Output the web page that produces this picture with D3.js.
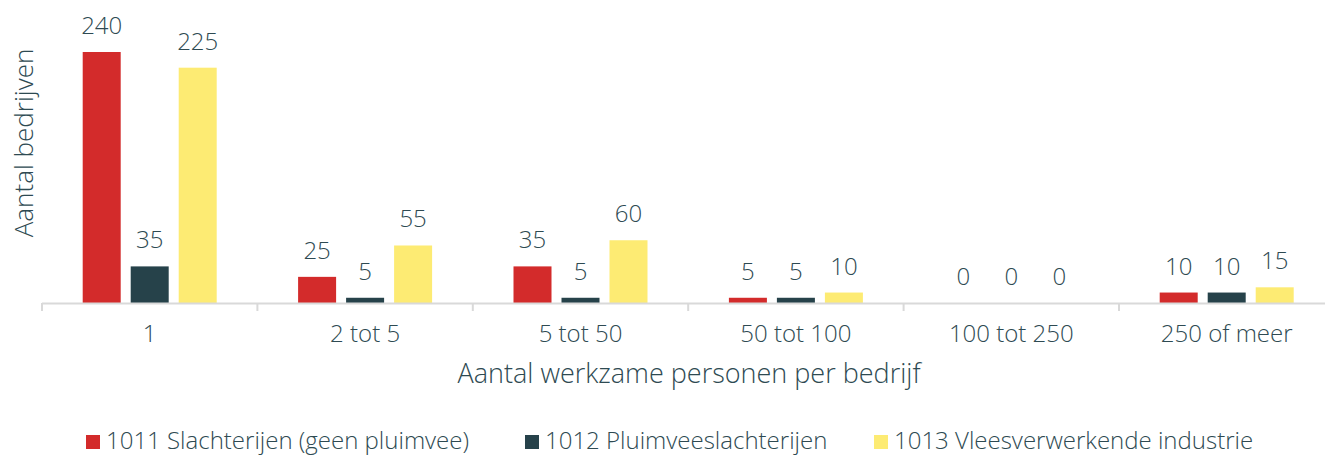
<!DOCTYPE html>
<html>
<head>
<meta charset="utf-8">
<script src="https://cdn.jsdelivr.net/npm/d3@7"></script>
<style>
  html, body { margin: 0; padding: 0; background: #fff; }
  svg { display: block; }
  text { font-family: "Open Sans", Lato, sans-serif; font-weight: 300; fill: #2E4A52; }
</style>
</head>
<body>
<svg id="chart" width="1325" height="455"></svg>
<script>
const categories = ["1", "2 tot 5", "5 tot 50", "50 tot 100", "100 tot 250", "250 of meer"];
const seriesNames = ["1011 Slachterijen (geen pluimvee)", "1012 Pluimveeslachterijen", "1013 Vleesverwerkende industrie"];
const slachterijen = [240, 25, 35, 5, 0, 10];
const pluimvee = [35, 5, 5, 5, 0, 10];
const vleesverwerkend = [225, 55, 60, 10, 0, 15];
const seriesColors = ["#D32B2B", "#26424A", "#FDEB73"];
const xTitle = "Aantal werkzame personen per bedrijf";
const yTitle = "Aantal bedrijven";

const seriesValues = [slachterijen, pluimvee, vleesverwerkend];
const svg = d3.select("#chart");

const x0 = d3.scaleBand().domain(categories).range([42, 42 + 6 * 215.4]).padding(0);
const gw = x0.bandwidth();
const x1 = d3.scaleBand().domain(d3.range(seriesNames.length))
  .range([(gw - 134) / 2, (gw + 134) / 2]).paddingInner(10 / 48).paddingOuter(0);
const y = d3.scaleLinear().domain([0, 240]).range([303, 52]);

// bars
const groups = svg.append("g").selectAll("g").data(categories).join("g")
  .attr("transform", d => `translate(${x0(d)},0)`);

groups.each(function(cat, ci) {
  const g = d3.select(this);
  seriesValues.forEach((vals, si) => {
    const v = vals[ci];
    g.append("rect")
      .attr("x", x1(si))
      .attr("width", x1.bandwidth())
      .attr("y", y(v))
      .attr("height", y(0) - y(v))
      .attr("fill", seriesColors[si]);
    g.append("text")
      .attr("x", x1(si) + x1.bandwidth() / 2)
      .attr("y", y(v) - 18)
      .attr("text-anchor", "middle")
      .attr("font-size", 24)
      .text(v);
  });
});

// axis
const axisG = svg.append("g");
axisG.append("line")
  .attr("x1", x0.range()[0]).attr("x2", x0.range()[1])
  .attr("y1", y(0) + 0.5).attr("y2", y(0) + 0.5)
  .attr("stroke", "#D9D9D9").attr("stroke-width", 2);
const bounds = categories.map(c => x0(c)).concat([x0.range()[1]]);
axisG.selectAll("line.tick").data(bounds).join("line")
  .attr("class", "tick")
  .attr("x1", d => d).attr("x2", d => d)
  .attr("y1", y(0)).attr("y2", y(0) + 8)
  .attr("stroke", "#D9D9D9").attr("stroke-width", 2);

const axis = d3.axisBottom(x0).tickSize(0).tickPadding(0);
const ag = svg.append("g").attr("transform", `translate(0, ${y(0)})`).call(axis);
ag.select(".domain").remove();
ag.selectAll("text")
  .attr("y", 39).attr("dy", 0)
  .attr("font-size", 24)
  .style("font-family", "'Open Sans', Lato, sans-serif")
  .style("font-weight", 300)
  .attr("fill", "#2E4A52");

// axis titles
svg.append("text")
  .attr("x", 689).attr("y", 383)
  .attr("text-anchor", "middle")
  .attr("font-size", 27)
  .text(xTitle);

svg.append("text")
  .attr("transform", "translate(33,143) rotate(-90)")
  .attr("text-anchor", "middle")
  .attr("font-size", 26)
  .text(yTitle);

// legend
const legendX = [86, 525, 874];
const lg = svg.append("g");
seriesNames.forEach((name, i) => {
  lg.append("rect")
    .attr("x", legendX[i]).attr("y", 435)
    .attr("width", 14).attr("height", 14)
    .attr("fill", seriesColors[i]);
  lg.append("text")
    .attr("x", legendX[i] + 20).attr("y", 449)
    .attr("font-size", 24)
    .text(name);
});
</script>
</body>
</html>
